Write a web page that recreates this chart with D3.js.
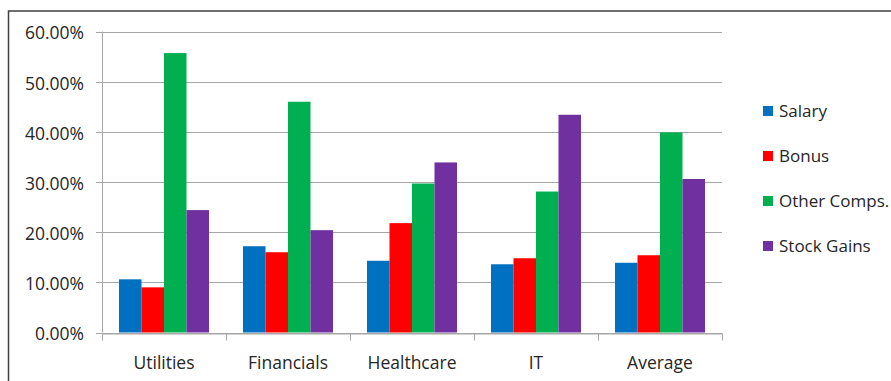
<!DOCTYPE html>
<html>
<head>
<meta charset="utf-8">
<script src="https://cdn.jsdelivr.net/npm/d3@7"></script>
<style>
  body { margin: 0; background: #fff; }
  svg text { font-family: "Open Sans", sans-serif; fill: #262626; }
</style>
</head>
<body>
<svg id="chart"></svg>
<script>
var svgW = 891
var svgH = 381

// data
var categories = ["Utilities", "Financials", "Healthcare", "IT", "Average"]
var seriesNames = ["Salary", "Bonus", "Other Comps.", "Stock Gains"]
var seriesColors = ["#0070C0", "#FF0000", "#00B050", "#7030A0"]
var salary = [0.106, 0.172, 0.143, 0.136, 0.139]
var bonus = [0.090, 0.160, 0.218, 0.148, 0.154]
var otherComps = [0.557, 0.460, 0.297, 0.281, 0.399]
var stockGains = [0.244, 0.204, 0.339, 0.434, 0.306]
var yTicks = [0, 0.1, 0.2, 0.3, 0.4, 0.5, 0.6]

var seriesValues = [salary, bonus, otherComps, stockGains]

var plot = {left: 102, right: 722, top: 31.5, bottom: 332.5}

var svg = d3.select("#chart")
    .attr("width", svgW)
    .attr("height", svgH)

// outer frame (top and left edges visible)
svg.append("path")
    .attr("d", "M8.5," + svgH + " V11 H" + svgW)
    .attr("fill", "none")
    .attr("stroke", "#404040")
    .attr("stroke-width", 1.5)

var x0 = d3.scaleBand()
    .domain(categories)
    .range([plot.left, plot.right])

var x1 = d3.scaleBand()
    .domain(seriesNames)
    .range([17, x0.bandwidth() - 17])

var y = d3.scaleLinear()
    .domain([0, 0.6])
    .range([plot.bottom, plot.top])

var fmt = d3.format(".2%")

// gridlines
svg.append("g")
    .selectAll("line")
    .data(yTicks)
    .enter()
    .append("line")
    .attr("x1", plot.left - 6)
    .attr("x2", plot.right)
    .attr("y1", function(d){return Math.round(y(d)) + 0.5})
    .attr("y2", function(d){return Math.round(y(d)) + 0.5})
    .attr("stroke", "#a6a6a6")
    .attr("stroke-width", 1)

// y labels
svg.append("g")
    .selectAll("text")
    .data(yTicks)
    .enter()
    .append("text")
    .text(function(d){return fmt(d)})
    .attr("x", 84)
    .attr("y", function(d){return y(d)})
    .attr("dy", "0.45em")
    .attr("text-anchor", "end")
    .style("font-size", "17.5px")

// bars
var groups = svg.append("g")
    .selectAll("g")
    .data(seriesNames)
    .enter()
    .append("g")
    .attr("fill", function(d, i){return seriesColors[i]})

groups.selectAll("rect")
    .data(function(d, i){
        return seriesValues[i].map(function(v, j){return {cat: categories[j], s: d, v: v}})
    })
    .enter()
    .append("rect")
    .attr("x", function(d){return x0(d.cat) + x1(d.s)})
    .attr("width", x1.bandwidth())
    .attr("y", function(d){return y(d.v)})
    .attr("height", function(d){return y(0) - y(d.v)})

// y axis line
svg.append("line")
    .attr("x1", plot.left + 0.5).attr("x2", plot.left + 0.5)
    .attr("y1", plot.top).attr("y2", plot.bottom)
    .attr("stroke", "#a6a6a6")

// x axis
var xAxis = d3.axisBottom(x0).tickSize(0).tickPadding(23)
var xg = svg.append("g")
    .attr("transform", "translate(0," + (Math.round(plot.bottom) + 0.5) + ")")
    .call(xAxis)
xg.select(".domain").attr("stroke", "#a6a6a6")
xg.selectAll("text")
    .style("font-size", "17.5px")
    .attr("dy", "0.71em")
    .attr("font-family", null)

var edges = categories.map(function(c){return x0(c)}).concat([plot.right])
xg.selectAll(".edge")
    .data(edges)
    .enter()
    .append("line")
    .attr("class", "edge")
    .attr("x1", function(d){return Math.round(d) + 0.5})
    .attr("x2", function(d){return Math.round(d) + 0.5})
    .attr("y1", 0)
    .attr("y2", 7)
    .attr("stroke", "#a6a6a6")

// legend
var legend = svg.append("g")
    .selectAll("g")
    .data(seriesNames)
    .enter()
    .append("g")
    .attr("transform", function(d, i){return "translate(763," + (111 + i * 45) + ")"})

legend.append("rect")
    .attr("x", 0).attr("y", -5)
    .attr("width", 10).attr("height", 10)
    .attr("fill", function(d, i){return seriesColors[i]})

legend.append("text")
    .text(function(d){return d})
    .attr("x", 16)
    .attr("y", 0)
    .attr("dy", "0.36em")
    .style("font-size", "17px")
</script>
</body>
</html>
